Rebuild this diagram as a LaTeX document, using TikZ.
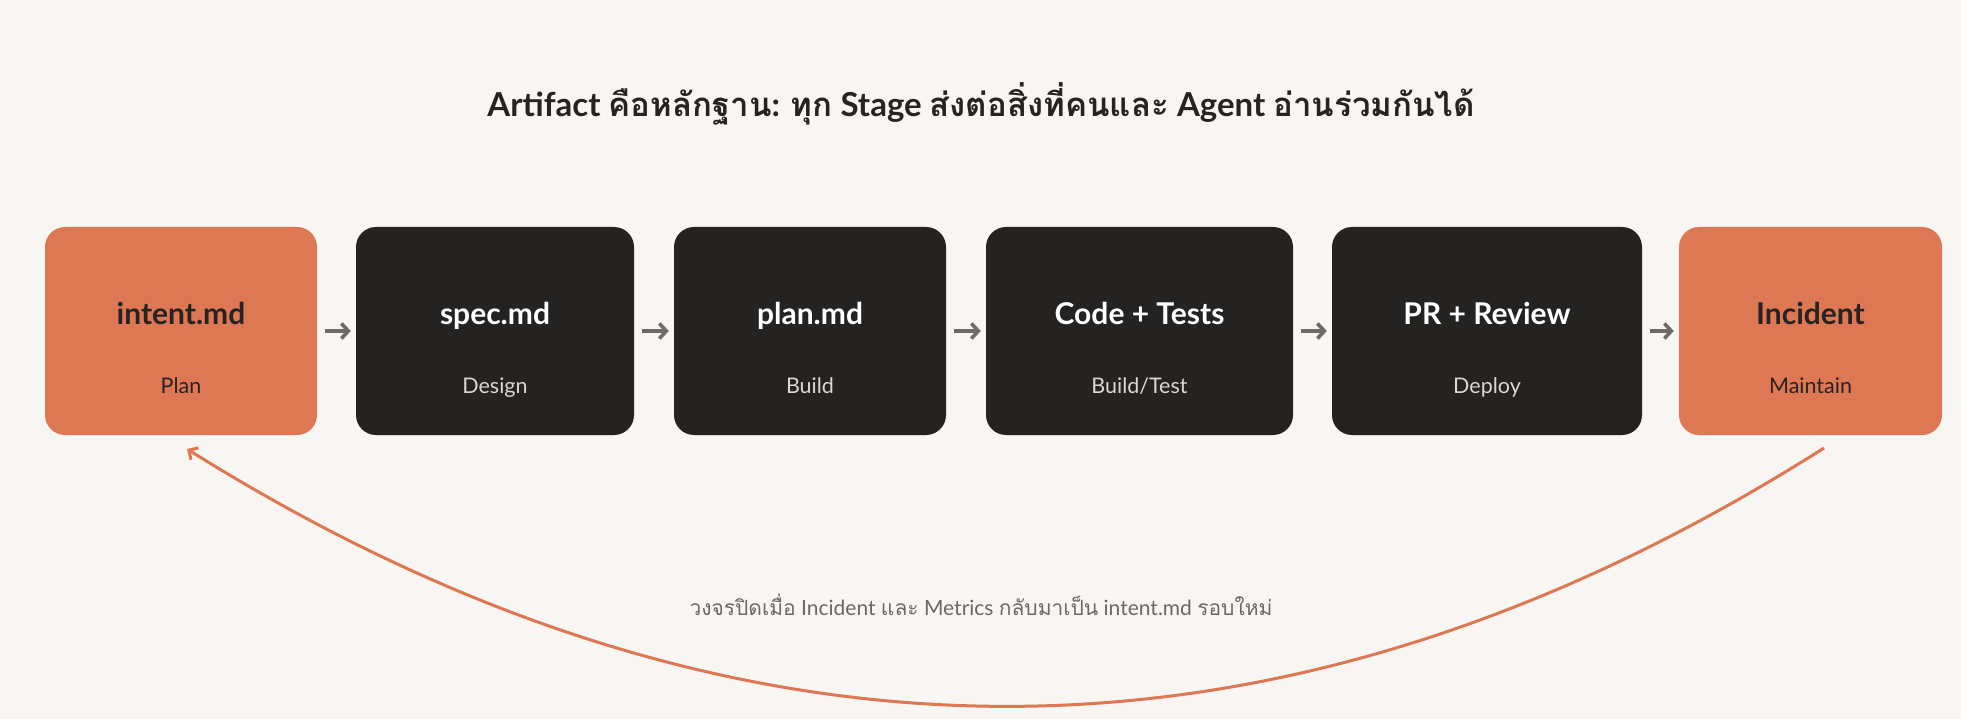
\documentclass[tikz,border=0pt]{standalone}
\usepackage{fontspec}
\setmainfont{Lato}
\newfontfamily\thai[Script=Thai]{Loma}
\usetikzlibrary{arrows.meta}
\definecolor{bg}{HTML}{F8F6F2}
\definecolor{orangebox}{HTML}{DE7753}
\definecolor{darkbox}{HTML}{242321}
\definecolor{ink}{HTML}{262422}
\definecolor{lightink}{HTML}{DAD7D0}
\definecolor{arrowgray}{HTML}{6E6A65}
\definecolor{notegray}{HTML}{6B6966}
\tikzset{
  stagebox/.style={rounded corners=20pt, minimum height=208pt, inner sep=0pt, draw=none},
  hotbox/.style={stagebox, fill=orangebox},
  coldbox/.style={stagebox, fill=darkbox},
  boxtitle/.style={anchor=base, font=\fontsize{30}{34}\selectfont\bfseries, inner sep=0pt},
  boxsub/.style={anchor=base, font=\fontsize{21.5}{25}\selectfont, inner sep=0pt},
  flow/.style={draw=arrowgray, line width=3.6pt, -{Straight Barb[length=7pt,width=15pt]}},
  loopback/.style={draw=orangebox, line width=3pt, -{Straight Barb[length=7pt,width=14pt]}}
}
\begin{document}
\begin{tikzpicture}[x=1pt,y=-1pt]
\fill[bg] (0,0) rectangle (1961,719);
\useasboundingbox (0,0) rectangle (1961,719);

\node[anchor=base, inner sep=0pt, text=ink, font=\fontsize{33}{38}\selectfont\bfseries] (title) at (981,117)
  {Artifact {\thai คือหลักฐาน}: {\thai ทุก} Stage {\thai ส่งต่อสิ่งที่คนและ} Agent {\thai อ่านร่วมกันได้}};

\node[hotbox, minimum width=272pt] (b1) at (181,331) {};
\node[coldbox, minimum width=278pt] (b2) at (495,331) {};
\node[coldbox, minimum width=272pt] (b3) at (810,331) {};
\node[coldbox, minimum width=307pt] (b4) at (1139.5,331) {};
\node[coldbox, minimum width=310pt] (b5) at (1487,331) {};
\node[hotbox, minimum width=263pt] (b6) at (1810.5,331) {};

\node[boxtitle, text=ink] (t1) at (181,324) {intent.md};
\node[boxsub, text=ink] (s1) at (181,393) {Plan};
\node[boxtitle, text=white] (t2) at (495,324) {spec.md};
\node[boxsub, text=lightink] (s2) at (495,393) {Design};
\node[boxtitle, text=white] (t3) at (810,324) {plan.md};
\node[boxsub, text=lightink] (s3) at (810,393) {Build};
\node[boxtitle, text=white] (t4) at (1139.5,324) {Code + Tests};
\node[boxsub, text=lightink] (s4) at (1139.5,393) {Build/Test};
\node[boxtitle, text=white] (t5) at (1487,324) {PR + Review};
\node[boxsub, text=lightink] (s5) at (1487,393) {Deploy};
\node[boxtitle, text=ink] (t6) at (1810.5,324) {Incident};
\node[boxsub, text=ink] (s6) at (1810.5,393) {Maintain};

\draw[flow] ([xshift=8pt]b1.east) -- ([xshift=-5pt]b2.west);
\draw[flow] ([xshift=8pt]b2.east) -- ([xshift=-5pt]b3.west);
\draw[flow] ([xshift=8pt]b3.east) -- ([xshift=-5pt]b4.west);
\draw[flow] ([xshift=8pt]b4.east) -- ([xshift=-5pt]b5.west);
\draw[flow] ([xshift=8pt]b5.east) -- ([xshift=-5pt]b6.west);

\coordinate (loopstart) at (1824,448);
\coordinate (loopend) at (187,449);
\draw[loopback] (loopstart) .. controls (1282,792) and (736,792) .. (loopend);

\node[anchor=base, inner sep=0pt, text=notegray, font=\fontsize{21}{25}\selectfont] (note) at (981,615)
  {{\thai วงจรปิดเมื่อ} Incident {\thai และ} Metrics {\thai กลับมาเป็น} intent.md {\thai รอบใหม่}};
\end{tikzpicture}
\end{document}
